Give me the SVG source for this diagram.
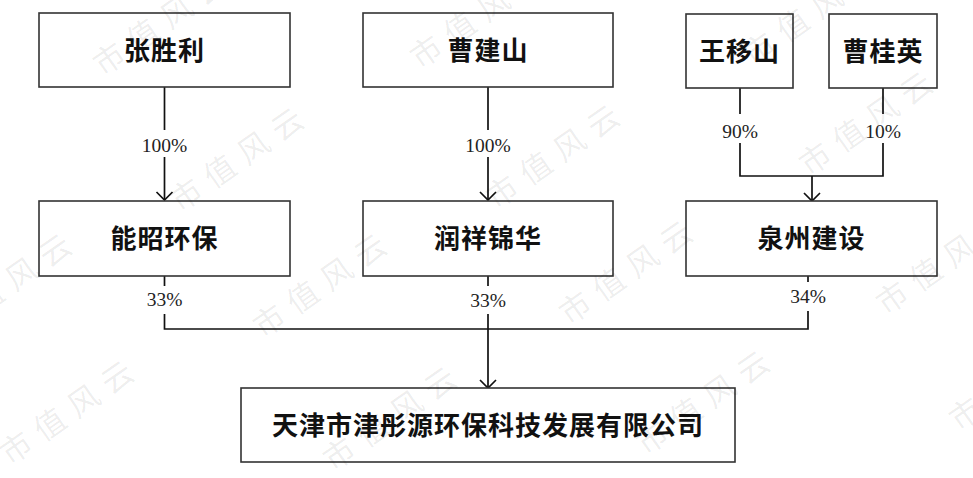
<svg xmlns="http://www.w3.org/2000/svg" width="973" height="478" viewBox="0 0 973 478">
<style>
.box{fill:#fff;stroke:#333;stroke-width:1.6}
.name{font-family:"Noto Sans CJK SC","Noto Sans CJK TC",sans-serif;font-size:26px;font-weight:bold;fill:#111;text-anchor:middle;letter-spacing:1px}
.pct{font-family:"Liberation Serif","Times New Roman",serif;font-size:19.5px;fill:#222;text-anchor:middle}
.ln{fill:none;stroke:#111;stroke-width:1.7}
.wm{font-family:"Noto Sans CJK SC",sans-serif;font-size:31px;fill:#000;fill-opacity:0.08;letter-spacing:10px}
</style>
<defs>
<marker id="arr" markerWidth="20" markerHeight="20" refX="10" refY="10" markerUnits="userSpaceOnUse" orient="auto">
<path d="M2,2 L10,10 L2,18" fill="none" stroke="#111" stroke-width="1.7"/>
</marker>
</defs>
<rect width="973" height="478" fill="#fff"/>
<g id="connectors">
<path class="ln" d="M164.5,87 V130"/>
<path class="ln" d="M164.5,157 V200" marker-end="url(#arr)"/>
<path class="ln" d="M488,87 V130"/>
<path class="ln" d="M488,157 V200" marker-end="url(#arr)"/>
<path class="ln" d="M740,88 V114"/>
<path class="ln" d="M883,88 V114"/>
<path class="ln" d="M740,143 V176 H883 V143"/>
<path class="ln" d="M812,176 V201" marker-end="url(#arr)"/>
<path class="ln" d="M164.5,276 V286"/>
<path class="ln" d="M488,276 V286"/>
<path class="ln" d="M808,276 V282"/>
<path class="ln" d="M164.5,314 V329 H808 V311"/>
<path class="ln" d="M488,314 V388" marker-end="url(#arr)"/>
<text class="pct" x="164.5" y="151.5">100%</text>
<text class="pct" x="488" y="151.5">100%</text>
<text class="pct" x="740" y="137.5">90%</text>
<text class="pct" x="883" y="137.5">10%</text>
<text class="pct" x="164.5" y="306">33%</text>
<text class="pct" x="488" y="307">33%</text>
<text class="pct" x="808" y="303">34%</text>
</g>
<g id="n1"><rect class="box" x="39" y="13" width="251" height="74"/><text class="name" x="164.5" y="60">张胜利</text></g>
<g id="n2"><rect class="box" x="363" y="13" width="250" height="74"/><text class="name" x="488" y="60">曹建山</text></g>
<g id="n3"><rect class="box" x="686" y="14" width="107" height="74"/><text class="name" x="739.5" y="60.5">王移山</text></g>
<g id="n4"><rect class="box" x="829" y="14" width="108" height="74"/><text class="name" x="883" y="60.5">曹桂英</text></g>
<g id="n5"><rect class="box" x="39" y="201" width="251" height="75"/><text class="name" x="164.5" y="248">能昭环保</text></g>
<g id="n6"><rect class="box" x="363" y="201" width="250" height="75"/><text class="name" x="488" y="248">润祥锦华</text></g>
<g id="n7"><rect class="box" x="686" y="201" width="251" height="75"/><text class="name" x="811.5" y="248">泉州建设</text></g>
<g id="n8"><rect class="box" x="241" y="388" width="494" height="74"/><text class="name" x="488" y="434.5">天津市津彤源环保科技发展有限公司</text></g>
<g id="watermarks">
<text class="wm" transform="translate(-135,213) rotate(-35)">市值风云</text>
<text class="wm" transform="translate(103,77) rotate(-35)">市值风云</text>
<text class="wm" transform="translate(420,70) rotate(-35)">市值风云</text>
<text class="wm" transform="translate(753,67) rotate(-35)">市值风云</text>
<text class="wm" transform="translate(180,213) rotate(-35)">市值风云</text>
<text class="wm" transform="translate(496,210) rotate(-35)">市值风云</text>
<text class="wm" transform="translate(809,177) rotate(-35)">市值风云</text>
<text class="wm" transform="translate(-52,339) rotate(-35)">市值风云</text>
<text class="wm" transform="translate(263,339) rotate(-35)">市值风云</text>
<text class="wm" transform="translate(569,326) rotate(-35)">市值风云</text>
<text class="wm" transform="translate(886,316) rotate(-35)">市值风云</text>
<text class="wm" transform="translate(10,466) rotate(-35)">市值风云</text>
<text class="wm" transform="translate(333,472) rotate(-35)">市值风云</text>
<text class="wm" transform="translate(646,456) rotate(-35)">市值风云</text>
<text class="wm" transform="translate(959,432) rotate(-35)">市值风云</text>
</g>
</svg>
